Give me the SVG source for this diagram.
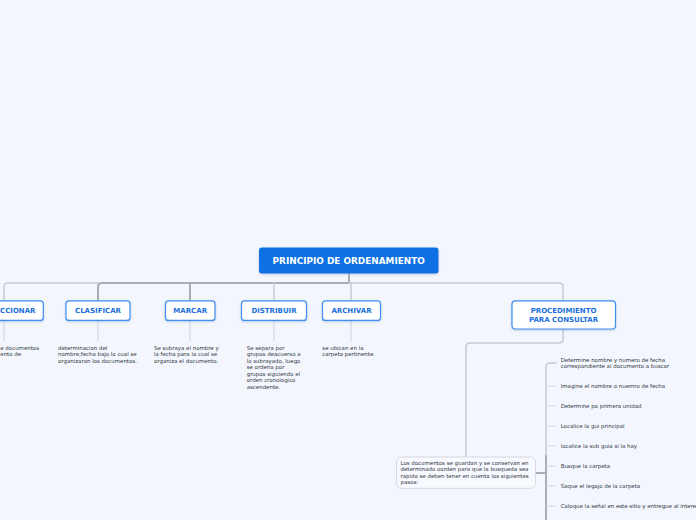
<svg xmlns="http://www.w3.org/2000/svg" width="696" height="520" viewBox="0 0 696 520">
<defs>
<filter id="sh" x="-20%" y="-20%" width="140%" height="160%">
<feDropShadow dx="0" dy="1" stdDeviation="0.8" flood-color="#6080b0" flood-opacity="0.35"/>
</filter>
<style>
.t{font-family:"DejaVu Sans",Verdana,sans-serif;font-size:5.45px;fill:#30363f}
.h{font-family:"DejaVu Sans",Verdana,sans-serif;font-size:7px;font-weight:bold;fill:#1a70dc;text-anchor:middle}
.box{fill:#ffffff;stroke:#3d8ef0;stroke-width:1.2}
.c{fill:none;stroke-linecap:round;stroke-linejoin:round}
.m{stroke:#aaadb3;stroke-width:2}
.l{stroke:#c9ccd4;stroke-width:1.6}
.s{stroke:#d5d8df;stroke-width:1.2}
</style>
</defs>
<rect width="696" height="520" fill="#f3f6fd"/>
<g id="connectors">
<path class="c l" d="M4,301 V287 Q4,283 8,283 H98"/>
<path class="c m" d="M98,301 V287 Q98,283 102,283 H349"/>
<path class="c m" d="M349,274 V283"/>
<path class="c l" d="M349,283 H559 Q563,283 563,287 V301"/>
<path class="c m" d="M190,301 V283"/>
<path class="c l" d="M274,301 V283"/>
<path class="c l" d="M351,301 V283"/>
<path class="c s" d="M4,320 V341"/>
<path class="c s" d="M98,320 V341"/>
<path class="c s" d="M190,320 V341"/>
<path class="c s" d="M274,320 V341"/>
<path class="c s" d="M351,320 V341"/>
<path class="c l" d="M563,329 V339 Q563,343 559,343 H470 Q466,343 466,347 V457"/>
<path class="c m" d="M536,473 H546"/>
<path class="c l" d="M546,530 V367 Q546,363 550,363 H556"/>
<path class="c m" d="M546,456 V530"/>
<path class="c s" d="M546,386 H556 M546,406 H556 M546,426 H556 M546,446 H556 M546,466 H556 M546,486 H556 M546,506 H556"/>
</g>
<g id="root">
<rect x="259" y="247.5" width="179.5" height="26" rx="3" fill="#0b70e4" filter="url(#sh)"/>
<text x="348.7" y="263.7" font-family="'DejaVu Sans',Verdana,sans-serif" font-size="8.9" font-weight="bold" fill="#ffffff" text-anchor="middle">PRINCIPIO DE ORDENAMIENTO</text>
</g>
<g id="seleccionar">
<rect class="box" x="-40" y="300.8" width="83.3" height="19.6" rx="3" filter="url(#sh)"/>
<text class="h" x="35.5" y="313.2" style="text-anchor:end">SELECCIONAR</text>
<text class="t" x="0.3" y="350">e documentos</text>
<text class="t" x="0.3" y="356">ento de</text>
</g>
<g id="clasificar">
<rect class="box" x="66" y="300.8" width="64" height="19.6" rx="3" filter="url(#sh)"/>
<text class="h" x="98" y="313.2">CLASIFICAR</text>
<text class="t" x="58" y="350">determinacion del</text>
<text class="t" x="58" y="356.2">nombre,fecha bajo lo cual se</text>
<text class="t" x="58" y="362.6">organizaran los documentos.</text>
</g>
<g id="marcar">
<rect class="box" x="165.5" y="300.8" width="49.5" height="19.6" rx="3" filter="url(#sh)"/>
<text class="h" x="190.2" y="313.2">MARCAR</text>
<text class="t" x="154" y="350">Se subraya el nombre y</text>
<text class="t" x="154" y="356.2">la fecha para la cual se</text>
<text class="t" x="154" y="362.6">organiza el documento.</text>
</g>
<g id="distribuir">
<rect class="box" x="241.5" y="300.8" width="65" height="19.6" rx="3" filter="url(#sh)"/>
<text class="h" x="274" y="313.2">DISTRIBUIR</text>
<text class="t" x="246.7" y="350">Se separa por</text>
<text class="t" x="246.7" y="356.3">grupos deacuerso a</text>
<text class="t" x="246.7" y="362.7">lo subrayado, luego</text>
<text class="t" x="246.7" y="369">se ordena por</text>
<text class="t" x="246.7" y="375.6">grupos siguiendo el</text>
<text class="t" x="246.7" y="382.2">orden cronologico</text>
<text class="t" x="246.7" y="388.8">ascendente.</text>
</g>
<g id="archivar">
<rect class="box" x="322.5" y="300.8" width="58" height="19.6" rx="3" filter="url(#sh)"/>
<text class="h" x="351.5" y="313.2">ARCHIVAR</text>
<text class="t" x="322.3" y="350">se ubican en la</text>
<text class="t" x="322.3" y="356.2">carpeta pertinente.</text>
</g>
<g id="procedimiento">
<rect class="box" x="512" y="300.8" width="103.5" height="28.2" rx="3.5" filter="url(#sh)"/>
<text class="h" x="563.5" y="313">PROCEDIMIENTO</text>
<text class="h" x="563.5" y="321.8">PARA CONSULTAR</text>
</g>
<g id="los-documentos">
<rect x="396.5" y="457" width="139" height="31.3" rx="5" fill="#f7f9fe" stroke="#d6d9e0" stroke-width="1"/>
<text class="t" x="400.5" y="464.8">Los documentos se guardan y se conservan en</text>
<text class="t" x="400.5" y="471.3">determinado oorden para que la busqueda sea</text>
<text class="t" x="400.5" y="477.8">rapida se deben tener en cuenta los siguientes</text>
<text class="t" x="400.5" y="484.3">pasos:</text>
</g>
<g id="pasos">
<text class="t" x="560.7" y="361.8">Determine nombre y numero de fecha</text>
<text class="t" x="560.7" y="367.7">correspondiente al documento a buscar</text>
<text class="t" x="560.7" y="387.6">Imagine el nombre o nuemro de fecha</text>
<text class="t" x="560.7" y="407.8">Determine pa primera unidad</text>
<text class="t" x="560.7" y="427.6">Localice la gui principal</text>
<text class="t" x="560.7" y="447.6">localice la sub guia si la hay</text>
<text class="t" x="560.7" y="467.6">Busque la carpeta</text>
<text class="t" x="560.7" y="487.6">Saque el legajo de la carpeta</text>
<text class="t" x="560.7" y="507.6">Coloque la señal en este sitio y entregue al interesado</text>
</g>
</svg>
